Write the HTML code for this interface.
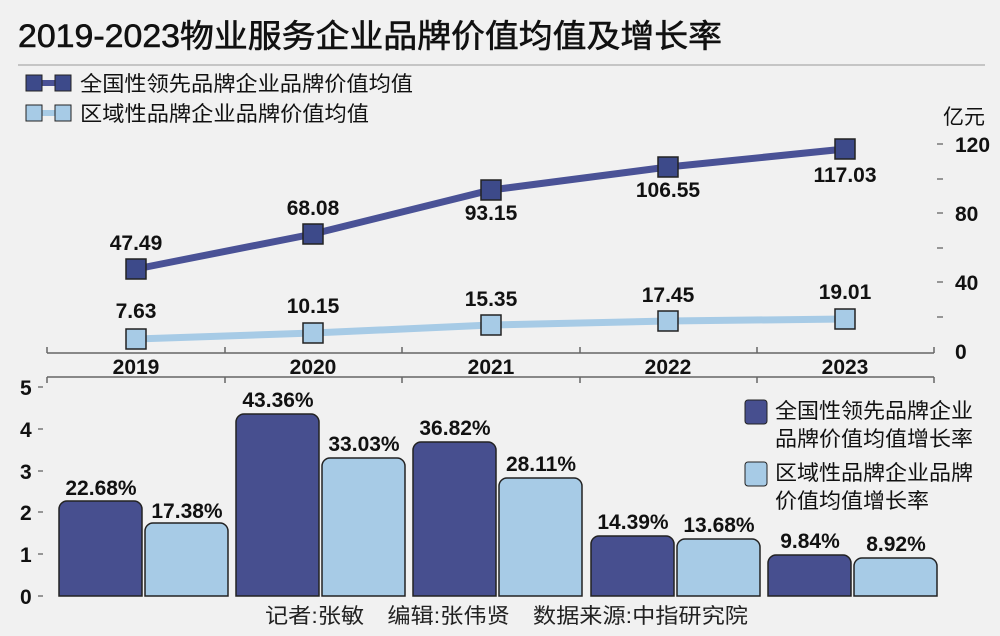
<!DOCTYPE html><html><head><meta charset="utf-8"><style>
body{margin:0;background:#f1f1f1}
svg{display:block;font-family:"Liberation Sans","Noto Sans CJK SC",sans-serif}
.n{font-weight:bold;font-size:21px;fill:#111;text-anchor:middle}
</style></head><body>
<svg width="1000" height="636" viewBox="0 0 1000 636">
<rect width="1000" height="636" fill="#f1f1f1"/>
<text x="18" y="47" font-size="32" fill="#111" stroke="#111" stroke-width="0.6" textLength="704" lengthAdjust="spacingAndGlyphs">2019-2023物业服务企业品牌价值均值及增长率</text>
<line x1="18" y1="65" x2="985" y2="65" stroke="#999" stroke-width="1"/>
<!-- legend -->
<line x1="35" y1="83" x2="62" y2="83" stroke="#4a5296" stroke-width="6"/>
<rect x="26" y="75" width="16" height="16" fill="#3d4a8a" stroke="#222"/>
<rect x="55" y="75" width="16" height="16" fill="#3d4a8a" stroke="#222"/>
<text x="80" y="91" font-size="21" fill="#111" textLength="333" lengthAdjust="spacingAndGlyphs">全国性领先品牌企业品牌价值均值</text>
<line x1="35" y1="113" x2="62" y2="113" stroke="#a7cbe6" stroke-width="6"/>
<rect x="26" y="105" width="16" height="16" fill="#a7cbe6" stroke="#222"/>
<rect x="55" y="105" width="16" height="16" fill="#a7cbe6" stroke="#222"/>
<text x="80" y="121" font-size="21" fill="#111" textLength="289" lengthAdjust="spacingAndGlyphs">区域性品牌企业品牌价值均值</text>
<!-- right axis -->
<text x="943" y="124" font-size="21" fill="#111">亿元</text>
<g stroke="#777" stroke-width="1.5">
<line x1="937" y1="144" x2="943" y2="144"/><line x1="937" y1="179" x2="943" y2="179"/>
<line x1="937" y1="213" x2="943" y2="213"/><line x1="937" y1="248" x2="943" y2="248"/>
<line x1="937" y1="282" x2="943" y2="282"/><line x1="937" y1="317" x2="943" y2="317"/>
</g>
<g font-size="21" font-weight="bold" fill="#111">
<text x="955" y="152">120</text><text x="955" y="221">80</text><text x="955" y="290">40</text><text x="955" y="359">0</text>
</g>
<!-- x axis top -->
<g stroke="#666" stroke-width="1.5">
<line x1="47" y1="353" x2="934" y2="353"/>
<line x1="47" y1="347" x2="47" y2="353"/><line x1="225" y1="347" x2="225" y2="353"/><line x1="402" y1="347" x2="402" y2="353"/><line x1="580" y1="347" x2="580" y2="353"/><line x1="757" y1="347" x2="757" y2="353"/><line x1="934" y1="347" x2="934" y2="353"/>
<line x1="47" y1="377" x2="934" y2="377"/>
<line x1="47" y1="377" x2="47" y2="383"/><line x1="225" y1="377" x2="225" y2="383"/><line x1="402" y1="377" x2="402" y2="383"/><line x1="580" y1="377" x2="580" y2="383"/><line x1="757" y1="377" x2="757" y2="383"/><line x1="934" y1="377" x2="934" y2="383"/>
</g>
<g class="n"><text class="n" x="136" y="374">2019</text><text class="n" x="313" y="374">2020</text><text class="n" x="491" y="374">2021</text><text class="n" x="668" y="374">2022</text><text class="n" x="845" y="374">2023</text></g>
<!-- lines -->
<polyline points="136,269 313,234 491,190 668,167 845,149" fill="none" stroke="#4a5296" stroke-width="7"/>
<polyline points="136,339 313,333 491,325 668,321 845,319" fill="none" stroke="#a7cbe6" stroke-width="7"/>
<g fill="#3d4a8a" stroke="#222" stroke-width="1.5">
<rect x="126" y="259" width="20" height="20"/><rect x="303" y="224" width="20" height="20"/><rect x="481" y="180" width="20" height="20"/><rect x="658" y="157" width="20" height="20"/><rect x="835" y="139" width="20" height="20"/>
</g>
<g fill="#a7cbe6" stroke="#222" stroke-width="1.5">
<rect x="126" y="329" width="20" height="20"/><rect x="303" y="323" width="20" height="20"/><rect x="481" y="315" width="20" height="20"/><rect x="658" y="311" width="20" height="20"/><rect x="835" y="309" width="20" height="20"/>
</g>
<text class="n" x="136" y="250">47.49</text><text class="n" x="313" y="215">68.08</text><text class="n" x="491" y="220">93.15</text><text class="n" x="668" y="197">106.55</text><text class="n" x="845" y="182">117.03</text>
<text class="n" x="136" y="318">7.63</text><text class="n" x="313" y="313">10.15</text><text class="n" x="491" y="306">15.35</text><text class="n" x="668" y="302">17.45</text><text class="n" x="845" y="299">19.01</text>
<!-- bottom axis -->
<g stroke="#777" stroke-width="1.5">
<line x1="38" y1="387" x2="43" y2="387"/><line x1="38" y1="429" x2="43" y2="429"/><line x1="38" y1="471" x2="43" y2="471"/><line x1="38" y1="512" x2="43" y2="512"/><line x1="38" y1="554" x2="43" y2="554"/><line x1="38" y1="596" x2="43" y2="596"/>
</g>
<g font-size="21" font-weight="bold" fill="#111">
<text x="20" y="395">5</text><text x="20" y="437">4</text><text x="20" y="479">3</text><text x="20" y="520">2</text><text x="20" y="562">1</text><text x="20" y="604">0</text>
</g>
<!-- bars -->
<g stroke="#222" stroke-width="1.5">
<path d="M59,596V509a8,8 0 0 1 8,-8H134a8,8 0 0 1 8,8V596Z" fill="#474f8f"/>
<path d="M145,596V531a8,8 0 0 1 8,-8H220a8,8 0 0 1 8,8V596Z" fill="#a7cbe6"/>
<path d="M236,596V422a8,8 0 0 1 8,-8H311a8,8 0 0 1 8,8V596Z" fill="#474f8f"/>
<path d="M322,596V466a8,8 0 0 1 8,-8H397a8,8 0 0 1 8,8V596Z" fill="#a7cbe6"/>
<path d="M413,596V450a8,8 0 0 1 8,-8H488a8,8 0 0 1 8,8V596Z" fill="#474f8f"/>
<path d="M499,596V486a8,8 0 0 1 8,-8H574a8,8 0 0 1 8,8V596Z" fill="#a7cbe6"/>
<path d="M591,596V544a8,8 0 0 1 8,-8H666a8,8 0 0 1 8,8V596Z" fill="#474f8f"/>
<path d="M677,596V547a8,8 0 0 1 8,-8H752a8,8 0 0 1 8,8V596Z" fill="#a7cbe6"/>
<path d="M768,596V563a8,8 0 0 1 8,-8H843a8,8 0 0 1 8,8V596Z" fill="#474f8f"/>
<path d="M854,596V566a8,8 0 0 1 8,-8H929a8,8 0 0 1 8,8V596Z" fill="#a7cbe6"/>
</g>
<text class="n" x="101" y="495">22.68%</text><text class="n" x="187" y="518">17.38%</text>
<text class="n" x="278" y="407">43.36%</text><text class="n" x="364" y="451">33.03%</text>
<text class="n" x="455" y="435">36.82%</text><text class="n" x="541" y="471">28.11%</text>
<text class="n" x="633" y="529">14.39%</text><text class="n" x="719" y="532">13.68%</text>
<text class="n" x="810" y="548">9.84%</text><text class="n" x="896" y="551">8.92%</text>
<!-- bottom legend -->
<rect x="745" y="400" width="22" height="24" rx="3" fill="#474f8f" stroke="#222"/>
<text x="775" y="418" font-size="21" fill="#111" textLength="198" lengthAdjust="spacingAndGlyphs">全国性领先品牌企业</text>
<text x="775" y="446" font-size="21" fill="#111" textLength="198" lengthAdjust="spacingAndGlyphs">品牌价值均值增长率</text>
<rect x="745" y="462" width="22" height="24" rx="3" fill="#a7cbe6" stroke="#222"/>
<text x="775" y="480" font-size="21" fill="#111" textLength="198" lengthAdjust="spacingAndGlyphs">区域性品牌企业品牌</text>
<text x="775" y="508" font-size="21" fill="#111" textLength="154" lengthAdjust="spacingAndGlyphs">价值均值增长率</text>
<text x="265" y="623" font-size="21" fill="#222" textLength="483" lengthAdjust="spacingAndGlyphs">记者:张敏　编辑:张伟贤　数据来源:中指研究院</text>
</svg></body></html>
